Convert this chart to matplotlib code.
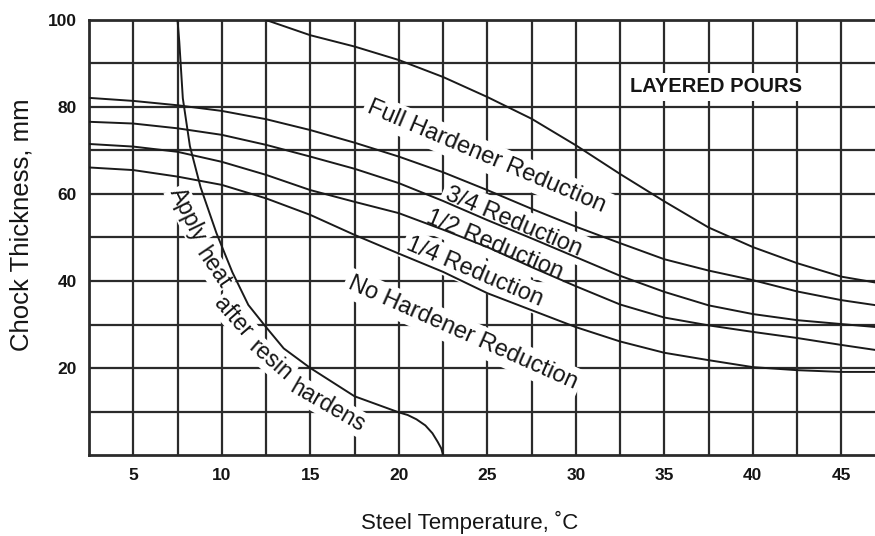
import numpy as np
import matplotlib
matplotlib.use("Agg")
import matplotlib.pyplot as plt

plt.rcParams['font.family'] = ['Liberation Sans', 'DejaVu Sans']

# steel temperature (C) where curves were read
temps = [2.5, 5, 7.5, 10, 12.5, 15, 17.5, 20, 22.5, 25, 27.5, 30, 32.5, 35, 37.5, 40, 42.5, 45, 47]

three_quarter = [82.1, 81.4, 80.4, 79.1, 77.2, 74.7, 71.8, 68.6, 65.0, 60.9, 56.6, 52.5, 48.7, 45.0, 42.4, 40.2, 37.6, 35.6, 34.4]
half = [76.6, 76.2, 75.1, 73.6, 71.3, 68.6, 65.8, 62.5, 58.4, 54.0, 49.8, 45.5, 41.2, 37.5, 34.4, 32.4, 31.0, 30.1, 29.4]
quarter = [71.5, 70.9, 69.7, 67.4, 64.4, 60.9, 58.2, 55.6, 51.8, 47.8, 43.2, 38.8, 34.6, 31.6, 29.8, 28.3, 26.9, 25.3, 24.1]
no_red = [66.1, 65.5, 64.0, 62.1, 59.0, 55.2, 50.6, 46.3, 42.1, 37.2, 33.3, 29.4, 26.1, 23.5, 21.8, 20.2, 19.5, 19.1, 19.1]

full_t = [12.5, 15, 17.5, 20, 22.5, 25, 27.5, 30, 32.5, 35, 37.5, 40, 42.5, 45, 47]
full = [100, 96.5, 93.9, 90.8, 86.9, 82.3, 77.3, 71.2, 64.6, 58.3, 52.3, 47.8, 44.1, 41.0, 39.6]

heat_t = [7.5, 7.6, 7.8, 8.2, 8.8, 9.7, 10.6, 11.5, 12.5, 13.5, 15, 17.5, 20, 20.5, 21, 21.5, 21.9, 22.2, 22.4, 22.5]
heat = [100, 95, 82, 71, 61.6, 51, 42, 34.5, 29.4, 24.5, 20, 13.5, 9.8, 9.2, 8.2, 6.8, 5, 3, 1.5, 0]

curve_labels = ["Full Hardener Reduction", "3/4 Reduction", "1/2 Reduction",
                "1/4 Reduction", "No Hardener Reduction"]
heat_words = ["Apply", "heat", "after", "resin", "hardens"]

fig = plt.figure(figsize=(8.75, 5.36), dpi=100)
ax = fig.add_axes([89/875, 81/536, 1 - 89/875, 435/536])

grid_c = '#2b2b2b'
for x in np.arange(5, 46, 2.5):
    ax.axvline(x, color=grid_c, lw=1.6, zorder=1)
for y in range(10, 100, 10):
    ax.axhline(y, color=grid_c, lw=1.6, zorder=1)

lc = '#1a1a1a'
ax.plot(full_t, full, color=lc, lw=1.4, zorder=4)
for vals in [three_quarter, half, quarter, no_red]:
    ax.plot(temps, vals, color=lc, lw=1.4, zorder=4)
ax.plot(heat_t, heat, color=lc, lw=1.4, zorder=4)

tc = '#151515'
box = dict(facecolor='white', edgecolor='none', pad=3)
lab_pos = [(24.97, 68.5, -23), (26.5, 53.6, -23), (25.4, 48.3, -23), (24.3, 42.0, -23), (23.6, 28.0, -24)]
for txt, (x, y, r) in zip(curve_labels, lab_pos):
    ax.text(x, y, txt, rotation=r, rotation_mode='anchor', ha='center', va='center',
            fontsize=17, color=tc, bbox=box, zorder=3)

word_pos = [(8.1, 55.2, -64), (9.5, 43.0, -56), (10.65, 31.8, -49), (12.75, 21.8, -41), (16.0, 11.3, -30)]
for txt, (x, y, r) in zip(heat_words, word_pos):
    ax.text(x, y, txt, rotation=r, rotation_mode='anchor', ha='center', va='center',
            fontsize=16.5, color=tc, bbox=dict(facecolor='white', edgecolor='none', pad=1), zorder=3)

ax.text(37.9, 84.6, "LAYERED POURS", ha='center', va='center', fontsize=14.5,
        fontweight='bold', color=tc, bbox=box, zorder=3)

ax.set_xlim(2.5, 46.9)
ax.set_ylim(0, 100)
ax.set_xticks(range(5, 46, 5))
ax.set_yticks(range(20, 101, 20))
ax.tick_params(length=0, labelsize=12.5, pad=9, colors=tc)
for lbl in ax.get_xticklabels() + ax.get_yticklabels():
    lbl.set_fontweight('bold')

for s in ['left', 'bottom', 'top']:
    ax.spines[s].set_linewidth(2)
    ax.spines[s].set_color(grid_c)
ax.spines['right'].set_visible(False)

fig.text(470/875, 1 - 522/536, "Steel Temperature, ˚C", ha='center', va='center', fontsize=16, color=tc)
fig.text(22/875, 1 - 225/536, "Chock Thickness, mm", ha='center', va='center', rotation=90, fontsize=18.5, color=tc)

fig.savefig("out.png", dpi=100, facecolor='white')
